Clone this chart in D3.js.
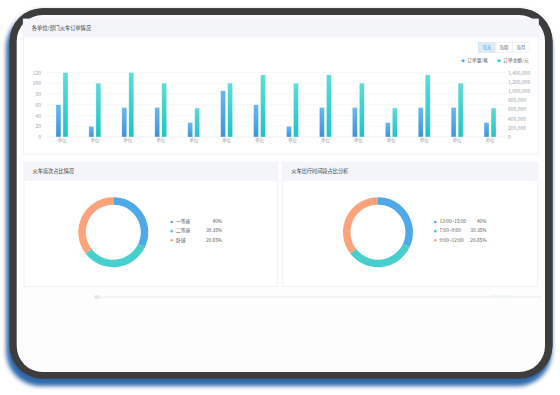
<!DOCTYPE html>
<html>
<head>
<meta charset="utf-8">
<script src="https://cdn.jsdelivr.net/npm/d3@7"></script>
<style>
html, body { margin: 0; padding: 0; background: #fff; }
svg { display: block; font-family: "Noto Sans CJK SC", "Noto Sans", sans-serif; }
</style>
</head>
<body>
<div id="chart"></div>
<script>
// Data.
var categories = ['单位', '单位', '单位', '单位', '单位', '单位', '单位',
                  '单位', '单位', '单位', '单位', '单位', '单位', '单位'];
var orderCount = [60, 20, 55, 55, 27, 86, 60, 20, 55, 55, 27, 55, 55, 27];
var orderAmount = [1400000, 1170000, 1400000, 1170000, 630000, 1170000, 1350000,
                   1170000, 1350000, 1170000, 630000, 1350000, 1170000, 630000];
var leftTicks = [0, 20, 40, 60, 80, 100, 120];
var rightTicks = [0, 200000, 400000, 600000, 800000, 1000000, 1200000, 1400000];
var seriesNames = ['订单量/笔', '订单金额/元'];
var periodTabs = ['当天', '当周', '当月'];

var seatNames = ['一等座', '二等座', '卧铺'];
var seatShares = [32, 32.5, 35.5];
var seatLabels = ['40%', '39.35%', '20.65%'];

var timeNames = ['12:00~15:00', '7:00~9:00', '9:00~12:00'];
var timeShares = [32, 32.5, 35.5];
var timeLabels = ['40%', '39.35%', '20.65%'];

var colors = ['#4ea9e9', '#47cfce', '#fba47b'];

var W = 560, H = 395;

var svg = d3.select('#chart').append('svg')
    .attr('width', W)
    .attr('height', H);

var defs = svg.append('defs');

// Frame shadow: blue below, faint grey around.
var f = defs.append('filter').attr('id', 'frameShadow')
    .attr('x', '-10%').attr('y', '-10%').attr('width', '120%').attr('height', '125%');
f.append('feDropShadow').attr('dx', -2).attr('dy', 6).attr('stdDeviation', 2.4)
    .attr('flood-color', '#2a66aa').attr('flood-opacity', 0.85).attr('result', 'blue');
f.append('feDropShadow').attr('dx', -1).attr('dy', 0).attr('stdDeviation', 2)
    .attr('flood-color', '#000').attr('flood-opacity', 0.12).attr('result', 'grey');
var fm = f.append('feMerge');
fm.append('feMergeNode').attr('in', 'blue');
fm.append('feMergeNode').attr('in', 'grey');

function grad(id, top, bottom) {
    var g = defs.append('linearGradient').attr('id', id)
        .attr('x1', 0).attr('y1', 0).attr('x2', 0).attr('y2', 1);
    g.append('stop').attr('offset', '0%').attr('stop-color', top);
    g.append('stop').attr('offset', '100%').attr('stop-color', bottom);
}
grad('gBlue', '#66b9f2', '#3b93da');
grad('gTeal', '#5fdcd9', '#1cc5c1');

// Device frame.
svg.append('rect')
    .attr('x', 9.5).attr('y', 8.3).attr('width', 543).attr('height', 370.5)
    .attr('rx', 33).attr('fill', '#3d3d3d')
    .attr('filter', 'url(#frameShadow)');

svg.append('rect')
    .attr('x', 16.7).attr('y', 15).attr('width', 528.3).attr('height', 357)
    .attr('rx', 26).attr('fill', '#fdfdfe');

// Panels.
function panel(x, y, w, h, title) {
    var g = svg.append('g');
    g.append('rect')
        .attr('x', x).attr('y', y).attr('width', w).attr('height', h)
        .attr('fill', '#fff').attr('stroke', '#eceef2').attr('stroke-width', 0.8);
    g.append('rect')
        .attr('x', x).attr('y', y).attr('width', w).attr('height', 18.5)
        .attr('fill', '#f3f5f9');
    g.append('text')
        .attr('x', x + 8.5).attr('y', y + 9.3)
        .attr('dominant-baseline', 'middle')
        .attr('font-size', 5.2).attr('fill', '#3a3a3a')
        .text(title);
    return g;
}

panel(23.3, 19, 515, 135, '各单位/部门火车订单情况');
panel(24, 162.3, 253.3, 124.4, '火车席次占比情况');
panel(282.7, 162.3, 255, 124.4, '火车出行时间段占比分析');

// Footer strip.
svg.append('line')
    .attr('x1', 95).attr('x2', 542).attr('y1', 297).attr('y2', 297)
    .attr('stroke', '#eef0f3').attr('stroke-width', 1.4);
svg.append('rect')
    .attr('x', 94.5).attr('y', 295.3).attr('width', 5).attr('height', 3.4)
    .attr('fill', '#e3e5e9');
svg.append('line')
    .attr('x1', 491).attr('x2', 514).attr('y1', 296).attr('y2', 296)
    .attr('stroke', '#dcefee').attr('stroke-width', 0.8);

// ---- Bar chart ----
var plotL = 45.5, plotR = 506.5, plotT = 72.5, plotB = 137;

var x = d3.scaleBand().domain(d3.range(categories.length)).range([plotL, plotR]);
var yL = d3.scaleLinear().domain([0, 120]).range([plotB, plotT]);
var yR = d3.scaleLinear().domain([0, 1400000]).range([plotB, plotT]);

var chart = svg.append('g');

chart.selectAll('.grid').data(leftTicks).enter().append('line')
    .attr('class', 'grid')
    .attr('x1', plotL).attr('x2', plotR)
    .attr('y1', function(d) { return yL(d); })
    .attr('y2', function(d) { return yL(d); })
    .attr('stroke', function(d) { return d === 0 ? '#e4e6ea' : '#f3f4f6'; })
    .attr('stroke-width', 0.6);

var axisL = chart.append('g')
    .attr('transform', 'translate(' + plotL + ',0)')
    .call(d3.axisLeft(yL).tickValues(leftTicks).tickSize(0).tickPadding(4.5));

var axisR = chart.append('g')
    .attr('transform', 'translate(' + plotR + ',0)')
    .call(d3.axisRight(yR).tickValues(rightTicks).tickSize(0).tickPadding(1.5)
        .tickFormat(d3.format(',')));

var axisX = chart.append('g')
    .attr('transform', 'translate(0,' + plotB + ')')
    .call(d3.axisBottom(x).tickSize(0).tickPadding(2.3)
        .tickFormat(function(i) { return categories[i]; }));

[axisL, axisR, axisX].forEach(function(a) {
    a.select('.domain').remove();
    a.selectAll('text')
        .attr('font-size', 5)
        .attr('fill', '#a0a4aa')
        .attr('font-family', '"Noto Sans CJK SC", "Noto Sans", sans-serif');
});
axisX.selectAll('text').attr('font-size', 4.5);

chart.selectAll('.bar-count').data(orderCount).enter().append('rect')
    .attr('class', 'bar-count')
    .attr('x', function(d, i) { return x(i) + x.bandwidth() / 2 - 6; })
    .attr('width', 5)
    .attr('y', function(d) { return yL(d); })
    .attr('height', function(d) { return plotB - yL(d); })
    .attr('fill', 'url(#gBlue)')
    .attr('stroke', 'rgba(255,255,255,0.7)').attr('stroke-width', 0.5);

chart.selectAll('.bar-amount').data(orderAmount).enter().append('rect')
    .attr('class', 'bar-amount')
    .attr('x', function(d, i) { return x(i) + x.bandwidth() / 2 + 1; })
    .attr('width', 5)
    .attr('y', function(d) { return yR(d); })
    .attr('height', function(d) { return plotB - yR(d); })
    .attr('fill', 'url(#gTeal)')
    .attr('stroke', 'rgba(255,255,255,0.7)').attr('stroke-width', 0.5);

// Legend.
var legendX = [461.7, 497.7];
var legend = chart.selectAll('.legend').data(seriesNames).enter().append('g')
    .attr('class', 'legend')
    .attr('transform', function(d, i) { return 'translate(' + legendX[i] + ',60.7)'; });
legend.append('rect')
    .attr('x', 0).attr('y', -1.3).attr('width', 2.8).attr('height', 2.6).attr('rx', 0.4)
    .attr('fill', function(d, i) { return i === 0 ? '#4aa3e6' : '#2ecbc8'; });
legend.append('text')
    .attr('x', 5.6).attr('dominant-baseline', 'middle')
    .attr('font-size', 4.7).attr('fill', '#666')
    .text(function(d) { return d; });

// Period tabs.
var tabW = 17;
var tabs = chart.selectAll('.tab').data(periodTabs).enter().append('g')
    .attr('class', 'tab')
    .attr('transform', function(d, i) { return 'translate(' + (478.3 + i * tabW) + ',42.7)'; });
tabs.append('rect')
    .attr('width', tabW).attr('height', 9.6)
    .attr('fill', function(d, i) { return i === 0 ? '#dcebf8' : '#fff'; })
    .attr('stroke', function(d, i) { return i === 0 ? '#c3dcf2' : '#e4e7eb'; })
    .attr('stroke-width', 0.5);
tabs.append('text')
    .attr('x', tabW / 2).attr('y', 4.9)
    .attr('text-anchor', 'middle').attr('dominant-baseline', 'middle')
    .attr('font-size', 4.6)
    .attr('fill', function(d, i) { return i === 0 ? '#5a9ad8' : '#555'; })
    .text(function(d) { return d; });

// ---- Donuts ----
var pie = d3.pie().sort(null).value(function(d) { return d; });
var arc = d3.arc().innerRadius(27.5).outerRadius(35);

function donut(cx, cy, shares, names, labels, lx, pctRight) {
    var g = svg.append('g').attr('transform', 'translate(' + cx + ',' + cy + ')');
    g.selectAll('path').data(pie(shares)).enter().append('path')
        .attr('d', arc)
        .attr('fill', function(d, i) { return colors[i]; });

    var rows = svg.selectAll(null).data(names).enter().append('g')
        .attr('transform', function(d, i) { return 'translate(0,' + (222 + i * 9.15) + ')'; });
    rows.append('circle')
        .attr('cx', lx).attr('r', 1.3)
        .attr('fill', function(d, i) { return colors[i]; });
    rows.append('text')
        .attr('x', lx + 4.3).attr('dominant-baseline', 'middle')
        .attr('font-size', 4.8).attr('fill', '#555')
        .text(function(d) { return d; });
    rows.append('text')
        .attr('x', pctRight).attr('text-anchor', 'end').attr('dominant-baseline', 'middle')
        .attr('font-size', 4.8).attr('fill', '#555')
        .text(function(d, i) { return labels[i]; });
}

donut(113.3, 232.2, seatShares, seatNames, seatLabels, 171.7, 222.3);
donut(378, 232.2, timeShares, timeNames, timeLabels, 435.3, 486.7);
</script>
</body>
</html>
